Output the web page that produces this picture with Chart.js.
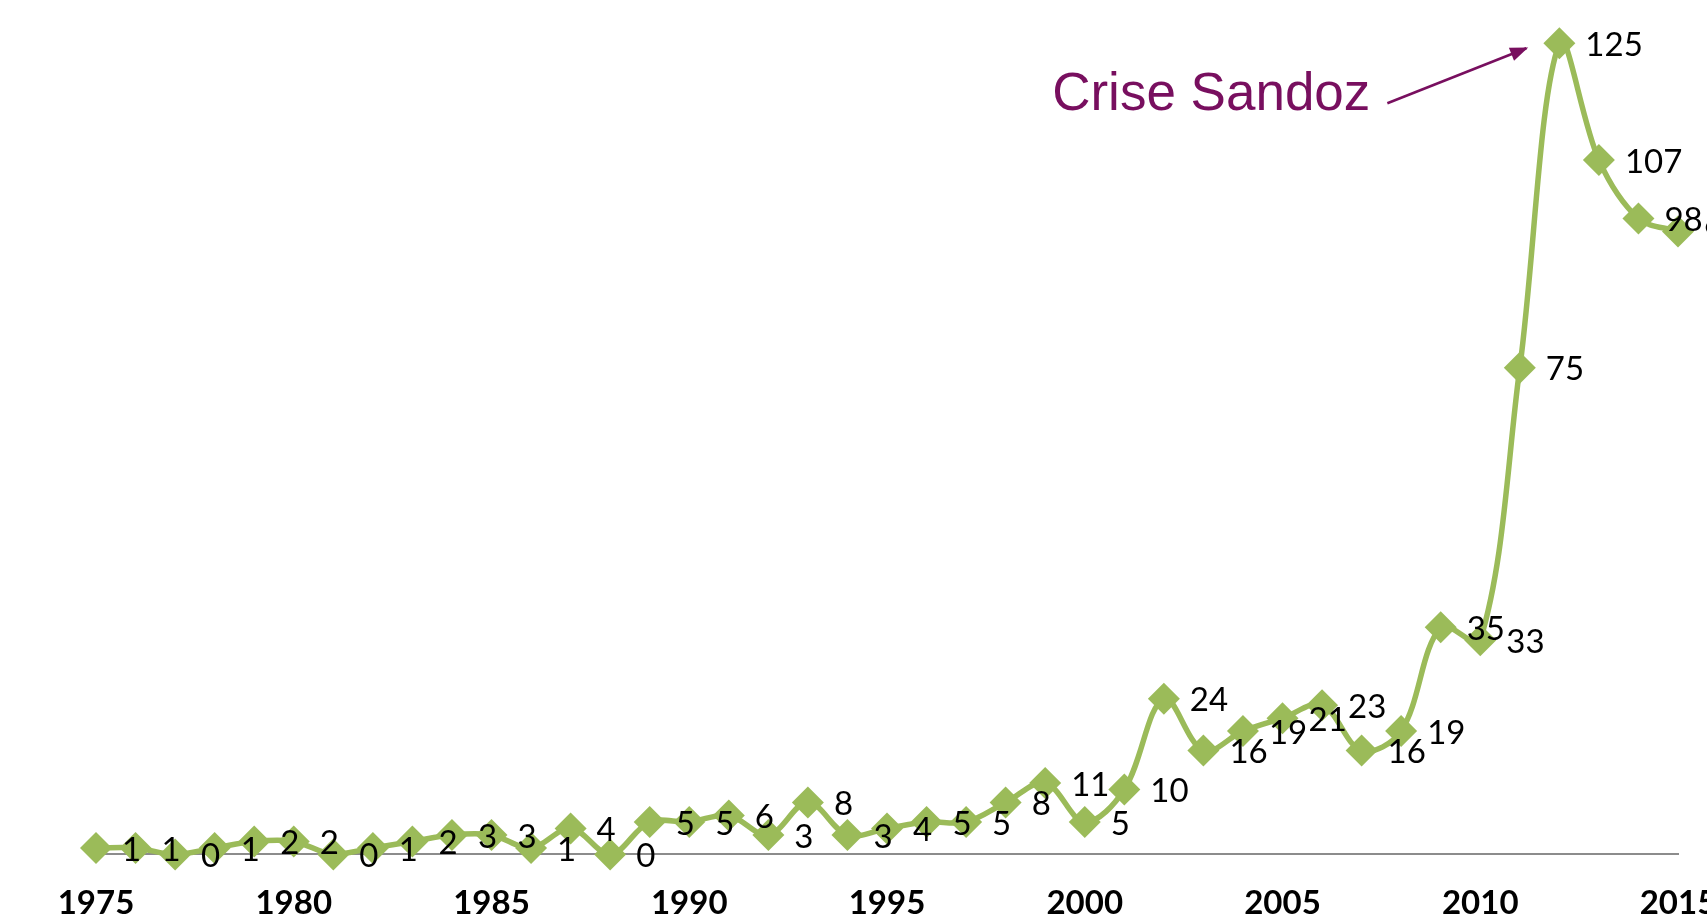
<!DOCTYPE html>
<html>
<head>
<meta charset="utf-8">
<script src="https://cdn.jsdelivr.net/npm/chart.js@4.4.1/dist/chart.umd.min.js"></script>
<style>
  html, body { margin: 0; padding: 0; background: #fff; overflow: hidden; }
  #wrap { width: 1707px; height: 921px; overflow: hidden; }
</style>
</head>
<body>
<div id="wrap"><canvas id="sandozChart" width="1760" height="952"></canvas></div>
<script>
const years = [];
for (let y = 1975; y <= 2015; y++) years.push(String(y));

const counts = [1, 1, 0, 1, 2, 2, 0, 1, 2, 3, 3, 1, 4, 0, 5, 5, 6, 3, 8, 3,
  4, 5, 5, 8, 11, 5, 10, 24, 16, 19, 21, 23, 16, 19, 35, 33, 75, 125, 107, 98, 96];

const tickYears = ['1975', '1980', '1985', '1990', '1995', '2000', '2005', '2010', '2015'];

const annotationText = 'Crise Sandoz';
const peakYear = '2012';

const green = '#9bbb59';
const purple = '#780f5f';

// value labels to the right of each point
const valueLabels = {
  id: 'valueLabels',
  afterDatasetsDraw(chart) {
    const ctx = chart.ctx;
    const meta = chart.getDatasetMeta(0);
    ctx.save();
    ctx.font = '33px Lato';
    ctx.fillStyle = '#000';
    ctx.textAlign = 'left';
    ctx.textBaseline = 'middle';
    meta.data.forEach((pt, i) => {
      ctx.fillText(String(counts[i]), pt.x + 26, pt.y + 2);
    });
    ctx.restore();
  }
};

// "Crise Sandoz" note with arrow pointing at the peak
const sandozNote = {
  id: 'sandozNote',
  afterDraw(chart) {
    const ctx = chart.ctx;
    const i = years.indexOf(peakYear);
    const px = chart.scales.x.getPixelForValue(i);
    const py = chart.scales.y.getPixelForValue(counts[i]);
    const tipX = px - 33, tipY = py + 5;
    const tailX = px - 172, tailY = py + 60;
    ctx.save();
    ctx.strokeStyle = purple;
    ctx.fillStyle = purple;
    ctx.lineWidth = 2.5;
    ctx.beginPath();
    ctx.moveTo(tailX, tailY);
    ctx.lineTo(tipX, tipY);
    ctx.stroke();
    const ang = Math.atan2(tipY - tailY, tipX - tailX);
    const len = 16, wid = 7;
    ctx.beginPath();
    ctx.moveTo(tipX + 2 * Math.cos(ang), tipY + 2 * Math.sin(ang));
    ctx.lineTo(tipX - len * Math.cos(ang) + wid * Math.sin(ang), tipY - len * Math.sin(ang) - wid * Math.cos(ang));
    ctx.lineTo(tipX - len * Math.cos(ang) - wid * Math.sin(ang), tipY - len * Math.sin(ang) + wid * Math.cos(ang));
    ctx.closePath();
    ctx.fill();
    ctx.font = '53px "Liberation Sans"';
    ctx.textAlign = 'right';
    ctx.textBaseline = 'alphabetic';
    ctx.fillText(annotationText, px - 189, py + 67);
    ctx.restore();
  }
};

const ctx = document.getElementById('sandozChart').getContext('2d');
const sandozChart = new Chart(ctx, {
  type: 'line',
  data: {
    labels: years,
    datasets: [{
      data: counts,
      borderColor: green,
      backgroundColor: green,
      borderWidth: 5.5,
      tension: 0.35,
      pointStyle: 'rectRot',
      pointRadius: 16,
      pointBorderWidth: 0,
      pointBackgroundColor: green,
      clip: false
    }]
  },
  options: {
    responsive: false,
    animation: false,
    layout: { padding: { left: 96, right: 82, top: 11, bottom: 0 } },
    plugins: { legend: { display: false }, tooltip: { enabled: false } },
    scales: {
      x: {
        offset: false,
        grid: { display: false, drawTicks: false },
        border: { display: true, color: '#8c8c8c', width: 2 },
        ticks: {
          autoSkip: false,
          maxRotation: 0,
          padding: 29,
          color: '#000',
          font: { family: 'Lato', size: 33, weight: 'bold' },
          callback: function (v) {
            const y = this.getLabelForValue(v);
            return tickYears.includes(y) ? y : '';
          }
        }
      },
      y: { display: false, min: 0, max: 129.2 }
    }
  },
  plugins: [valueLabels, sandozNote]
});
</script>
</body>
</html>
